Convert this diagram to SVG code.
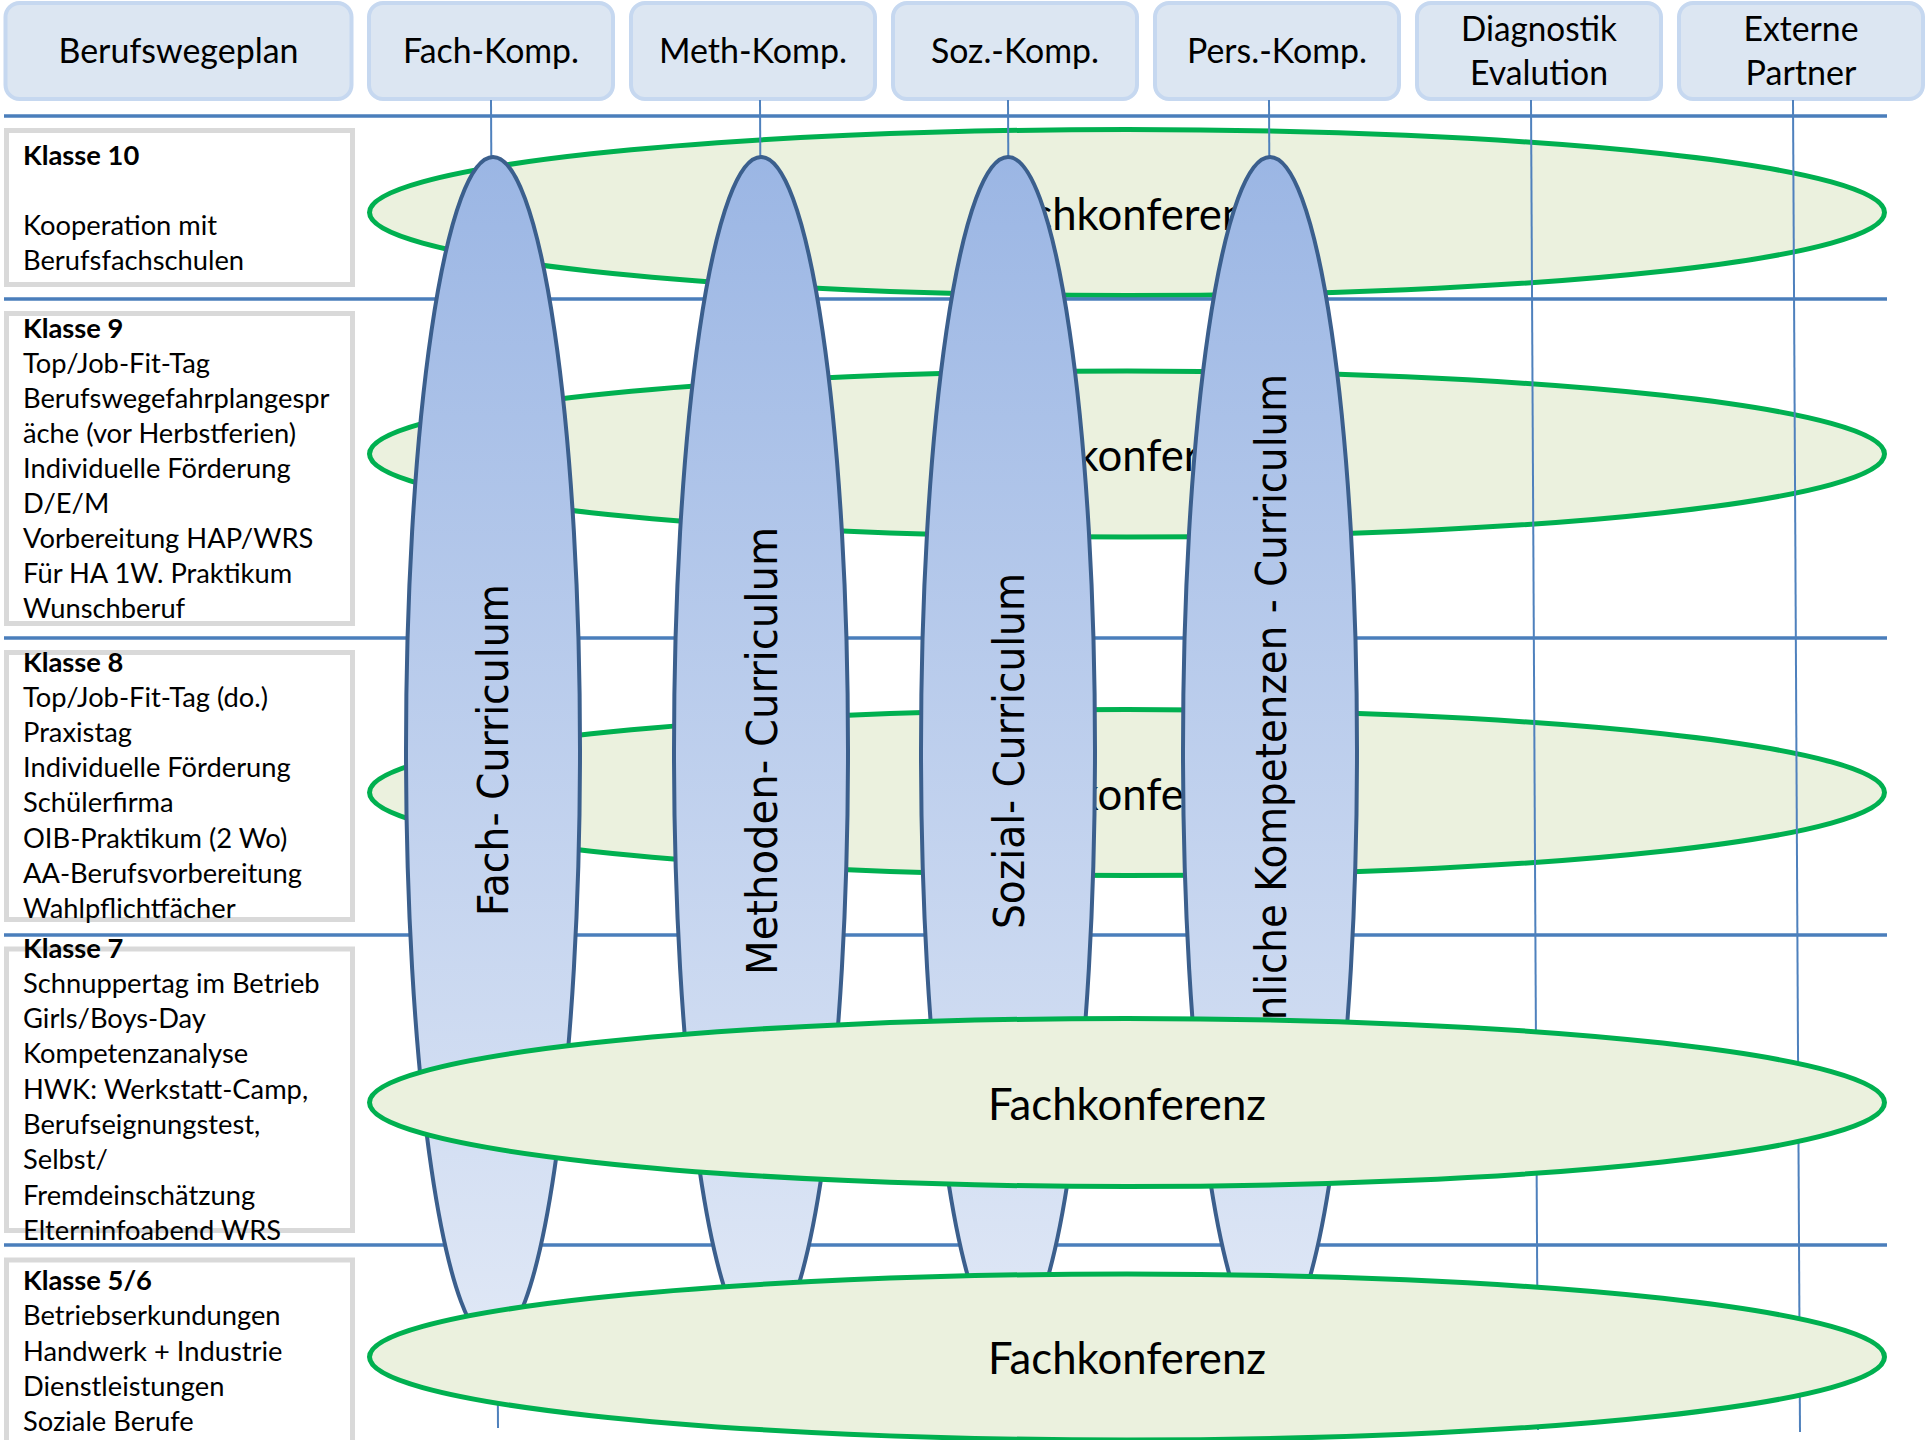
<svg xmlns="http://www.w3.org/2000/svg" width="1925" height="1440" viewBox="0 0 1925 1440">
<defs>
<linearGradient id="blueGrad" x1="0" y1="0" x2="0" y2="1">
<stop offset="0" stop-color="#9bb6e4"/>
<stop offset="1" stop-color="#e0e8f6"/>
</linearGradient>
</defs>
<style>
.hdr{fill:#dce6f2;stroke:#c6d8f0;stroke-width:4}
.hdrt{font-family:Lato,"Liberation Sans",sans-serif;font-size:34px;fill:#000;text-anchor:middle}
.lbox{fill:#fff;stroke:#d9d9d9;stroke-width:5}
.lt{font-family:Lato,"Liberation Sans",sans-serif;font-size:27.3px;fill:#000}
.lb{font-weight:bold}
.fk{fill:#ebf1de;stroke:#00b050;stroke-width:5}
.fkt{font-family:Lato,"Liberation Sans",sans-serif;font-size:43.5px;fill:#000;text-anchor:middle}
.cur{fill:url(#blueGrad);stroke:#3b5f8d;stroke-width:4}
.curt{font-family:"DejaVu Sans Condensed","DejaVu Sans",sans-serif;font-size:42.6px;fill:#000;text-anchor:middle}
.hl{stroke:#4a7ebb;stroke-width:3.3;fill:none}
.vl{stroke:#4f81bd;stroke-width:2;fill:none}
</style>

<g id="header">
<g id="h-berufswegeplan"><rect class="hdr" x="5.5" y="3" width="346" height="96" rx="14"/><text class="hdrt" x="178.5" y="63" textLength="240" lengthAdjust="spacingAndGlyphs">Berufswegeplan</text></g>
<g id="h-fach"><rect class="hdr" x="369" y="3" width="244" height="96" rx="14"/><text class="hdrt" x="491" y="63" textLength="176" lengthAdjust="spacingAndGlyphs">Fach-Komp.</text></g>
<g id="h-meth"><rect class="hdr" x="631" y="3" width="244" height="96" rx="14"/><text class="hdrt" x="753" y="63" textLength="188" lengthAdjust="spacingAndGlyphs">Meth-Komp.</text></g>
<g id="h-soz"><rect class="hdr" x="893" y="3" width="244" height="96" rx="14"/><text class="hdrt" x="1015" y="63" textLength="168" lengthAdjust="spacingAndGlyphs">Soz.-Komp.</text></g>
<g id="h-pers"><rect class="hdr" x="1155" y="3" width="244" height="96" rx="14"/><text class="hdrt" x="1277" y="63" textLength="180" lengthAdjust="spacingAndGlyphs">Pers.-Komp.</text></g>
<g id="h-diag"><rect class="hdr" x="1417" y="3" width="244" height="96" rx="14"/><text class="hdrt" x="1539" y="40.5" textLength="156" lengthAdjust="spacingAndGlyphs">Diagnostik</text><text class="hdrt" x="1539" y="85" textLength="138" lengthAdjust="spacingAndGlyphs">Evalution</text></g>
<g id="h-extern"><rect class="hdr" x="1679" y="3" width="244" height="96" rx="14"/><text class="hdrt" x="1801" y="40.5" textLength="115" lengthAdjust="spacingAndGlyphs">Externe</text><text class="hdrt" x="1801" y="85" textLength="111" lengthAdjust="spacingAndGlyphs">Partner</text></g>
</g>

<g id="klasse10"><rect class="lbox" x="6.5" y="130.5" width="346" height="154"/>
<text class="lt" x="23"><tspan class="lb" x="23" y="165">Klasse 10</tspan><tspan x="23" y="235">Kooperation mit</tspan><tspan x="23" y="270">Berufsfachschulen</tspan></text></g>

<g id="klasse9"><rect class="lbox" x="6.5" y="313.5" width="346" height="310"/>
<text class="lt"><tspan class="lb" x="23" y="337.5">Klasse 9</tspan><tspan x="23" y="372.6">Top/Job-Fit-Tag</tspan><tspan x="23" y="407.7">Berufswegefahrplangespr</tspan><tspan x="23" y="442.8">äche (vor Herbstferien)</tspan><tspan x="23" y="477.9">Individuelle Förderung</tspan><tspan x="23" y="513">D/E/M</tspan><tspan x="23" y="548.1">Vorbereitung HAP/WRS</tspan><tspan x="23" y="583.2">Für HA 1W. Praktikum</tspan><tspan x="23" y="618.3">Wunschberuf</tspan></text></g>

<g id="klasse8"><rect class="lbox" x="6.5" y="652.5" width="346" height="267"/>
<text class="lt"><tspan class="lb" x="23" y="672">Klasse 8</tspan><tspan x="23" y="707.1">Top/Job-Fit-Tag (do.)</tspan><tspan x="23" y="742.2">Praxistag</tspan><tspan x="23" y="777.3">Individuelle Förderung</tspan><tspan x="23" y="812.4">Schülerfirma</tspan><tspan x="23" y="847.5">OIB-Praktikum (2 Wo)</tspan><tspan x="23" y="882.6">AA-Berufsvorbereitung</tspan><tspan x="23" y="917.7">Wahlpflichtfächer</tspan></text></g>

<g id="klasse7"><rect class="lbox" x="6.5" y="949" width="346" height="281.5"/>
<text class="lt"><tspan class="lb" x="23" y="957.5">Klasse 7</tspan><tspan x="23" y="992.8">Schnuppertag im Betrieb</tspan><tspan x="23" y="1028.1">Girls/Boys-Day</tspan><tspan x="23" y="1063.4">Kompetenzanalyse</tspan><tspan x="23" y="1098.7">HWK: Werkstatt-Camp,</tspan><tspan x="23" y="1134">Berufseignungstest,</tspan><tspan x="23" y="1169.3">Selbst/</tspan><tspan x="23" y="1204.6">Fremdeinschätzung</tspan><tspan x="23" y="1239.9">Elterninfoabend WRS</tspan></text></g>

<g id="klasse56"><rect class="lbox" x="6.5" y="1260" width="346" height="200"/>
<text class="lt"><tspan class="lb" x="23" y="1290">Klasse 5/6</tspan><tspan x="23" y="1325.3">Betriebserkundungen</tspan><tspan x="23" y="1360.6">Handwerk + Industrie</tspan><tspan x="23" y="1395.9">Dienstleistungen</tspan><tspan x="23" y="1431.2">Soziale Berufe</tspan></text></g>

<g id="fk1"><ellipse class="fk" cx="1127" cy="212.5" rx="757.5" ry="83"/><text class="fkt" x="1127" y="230" textLength="278" lengthAdjust="spacingAndGlyphs">Fachkonferenz</text></g>
<g id="fk2"><ellipse class="fk" cx="1127" cy="454" rx="757.5" ry="83"/><text class="fkt" x="1127" y="471" textLength="278" lengthAdjust="spacingAndGlyphs">Fachkonferenz</text></g>
<g id="fk3"><ellipse class="fk" cx="1127" cy="792.5" rx="757.5" ry="83"/><text class="fkt" x="1127" y="810" textLength="278" lengthAdjust="spacingAndGlyphs">Fachkonferenz</text></g>

<g id="connectors">
<line class="hl" x1="4" y1="116" x2="1887" y2="116"/>
<line class="hl" x1="4" y1="299" x2="1887" y2="299"/>
<line class="hl" x1="4" y1="638" x2="1887" y2="638"/>
<line class="hl" x1="4" y1="935" x2="1887" y2="935"/>
<line class="hl" x1="4" y1="1245" x2="1887" y2="1245"/>
<line class="vl" x1="491" y1="100" x2="498" y2="1428"/>
<line class="vl" x1="760" y1="100" x2="767" y2="1428"/>
<line class="vl" x1="1008" y1="100" x2="1015" y2="1428"/>
<line class="vl" x1="1269" y1="100" x2="1276" y2="1428"/>
<line class="vl" x1="1531" y1="100" x2="1538" y2="1430"/>
<line class="vl" x1="1793" y1="100" x2="1800" y2="1432"/>
</g>

<g id="cur-fach"><ellipse class="cur" cx="493" cy="750" rx="87" ry="593"/><text class="curt" transform="translate(508,750) rotate(-90)" x="0" y="0" textLength="332" lengthAdjust="spacingAndGlyphs">Fach- Curriculum</text></g>
<g id="cur-meth"><ellipse class="cur" cx="761" cy="750" rx="87" ry="593"/><text class="curt" transform="translate(776.5,751) rotate(-90)" x="0" y="0" textLength="448" lengthAdjust="spacingAndGlyphs">Methoden- Curriculum</text></g>
<g id="cur-soz"><ellipse class="cur" cx="1008" cy="750" rx="87" ry="593"/><text class="curt" transform="translate(1023.5,751) rotate(-90)" x="0" y="0" textLength="356" lengthAdjust="spacingAndGlyphs">Sozial- Curriculum</text></g>
<g id="cur-pers"><ellipse class="cur" cx="1270" cy="750" rx="87" ry="593"/><text class="curt" transform="translate(1286,750) rotate(-90)" x="0" y="0" textLength="752" lengthAdjust="spacingAndGlyphs">Persönliche Kompetenzen - Curriculum</text></g>

<g id="fk4"><ellipse class="fk" cx="1127" cy="1102.5" rx="757.5" ry="84"/><text class="fkt" x="1127" y="1120" textLength="278" lengthAdjust="spacingAndGlyphs">Fachkonferenz</text></g>
<g id="fk5"><ellipse class="fk" cx="1127" cy="1357" rx="757.5" ry="83"/><text class="fkt" x="1127" y="1374" textLength="278" lengthAdjust="spacingAndGlyphs">Fachkonferenz</text></g>
</svg>
